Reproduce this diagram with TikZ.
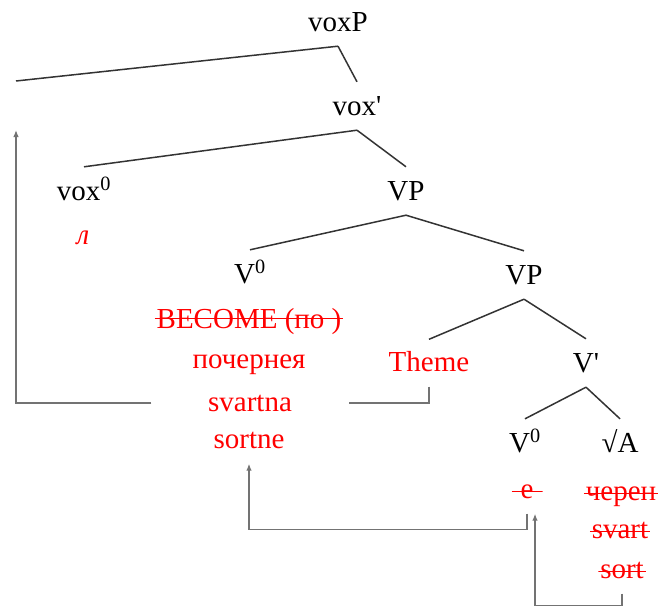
\documentclass[tikz,border=0pt]{standalone}
\usepackage{fontspec}
\setmainfont{Liberation Serif}
\usetikzlibrary{arrows.meta}

\begin{document}
\begin{tikzpicture}[x = 1pt, y = -1pt,
    cat/.style = {font = \fontsize{29}{32}\selectfont, text height = 18pt, text depth = 0pt, inner sep = 15pt},
    lex/.style = {font = \fontsize{29}{32}\selectfont, text = red, text height = 17pt, text depth = 0pt, inner xsep = 2pt, inner ysep = 15pt},
    struck/.style = {path picture = {\draw [red, line width = 1.3pt] ([yshift = #1]path picture bounding box.south west) -- ([yshift = #1]path picture bounding box.south east);}},
    struck/.default = 22pt,
    branch/.style = {line width = 1.5pt, color = black!80},
    move/.style = {line width = 1.3pt, color = black!55, -{Latex[length = 7pt, width = 5.5pt]}}]
      \useasboundingbox (0, 0) rectangle (660, 610);
      \node [cat] (voxP) at (338, 22) {voxP};
      \coordinate (spec) at (16, 81);
      \coordinate (landing) at (16, 130);
      \node [cat] (voxbar) at (357, 106) {vox\textquotesingle};
      \node [cat] (voxhd) at (84, 191) {vox\textsuperscript{0}};
      \node [lex] (clit) at (83, 236) {\textit{л}};
      \node [cat] (VPa) at (406, 191) {VP};
      \node [cat] (Vhd) at (250, 274) {V\textsuperscript{0}};
      \node [cat] (VPb) at (524, 275) {VP};
      \node [lex, struck = 25pt] (become) at (249, 320) {BECOME (по )};
      \node [lex] (pochernya) at (249, 360) {почернея};
      \node [lex, minimum width = 197pt, inner xsep = 0pt] (svartna) at (250, 403) {svartna};
      \node [lex] (sortne) at (249, 440) {sortne};
      \node [lex] (theme) at (429, 363) {Theme};
      \node [cat] (Vbar) at (586, 363) {V\textquotesingle};
      \node [cat] (Vlow) at (525, 443) {V\textsuperscript{0}};
      \node [cat] (root) at (620, 443) {√A};
      \node [lex, struck, minimum width = 31pt, inner xsep = 0pt] (e) at (527, 490) {e};
      \node [lex, struck] (cheren) at (621, 492) {черен};
      \node [lex, struck] (svart) at (620, 530) {svart};
      \node [lex, struck] (sort) at (622, 570) {sort};
      % tree
      \draw [branch] (voxP.south) -- (spec);
      \draw [branch] (voxP.south) -- (voxbar.north);
      \draw [branch] (voxbar.south) -- (voxhd.north);
      \draw [branch] (voxbar.south) -- (VPa.north);
      \draw [branch] (VPa.south) -- (Vhd.north);
      \draw [branch] (VPa.south) -- (VPb.north);
      \draw [branch] (VPb.south) -- (theme.north);
      \draw [branch] (VPb.south) -- (Vbar.north);
      \draw [branch] (Vbar.south) -- (Vlow.north);
      \draw [branch] (Vbar.south) -- (root.north);
      % movement
      \draw [move, -] (theme.south) |- (svartna.east);
      \draw [move] (svartna.west) -| (landing);
      \draw [move] (e.south) -- ++(0, 16) -| (sortne.south);
      \draw [move] (sort.south) -- ++(0, 12) -| ([xshift = 8pt]e.south);
    \end{tikzpicture}
\end{document}
